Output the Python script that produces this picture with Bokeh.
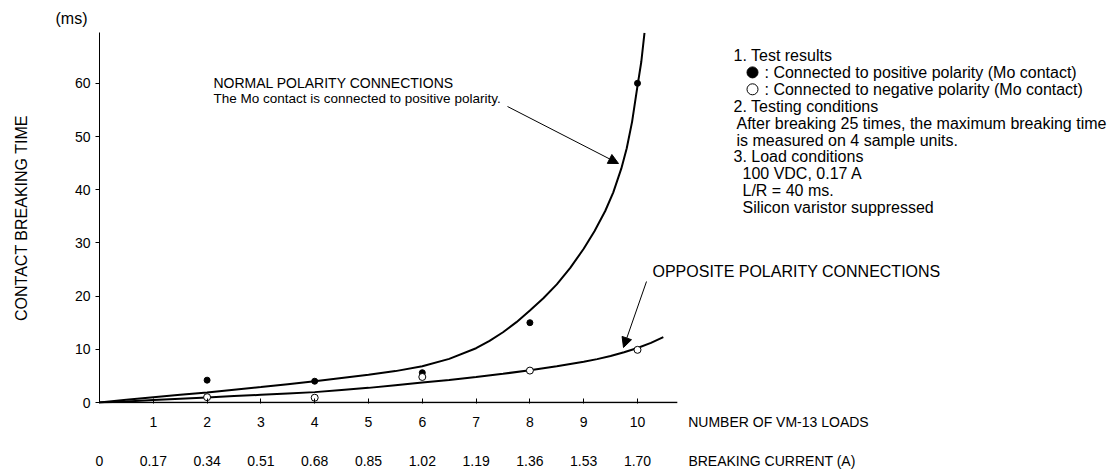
from bokeh.plotting import figure
from bokeh.models import LinearAxis, FixedTicker, Label, Arrow, NormalHead, Range1d, Title
from bokeh.embed import file_html
from bokeh.resources import INLINE

FONT = "Liberation Sans"

# ---------------- data ----------------
load_ticks = [1, 2, 3, 4, 5, 6, 7, 8, 9, 10]
load_labels = ["1", "2", "3", "4", "5", "6", "7", "8", "9", "10"]
current_ticks = [0, 1, 2, 3, 4, 5, 6, 7, 8, 9, 10]
current_labels = ["0", "0.17", "0.34", "0.51", "0.68", "0.85", "1.02", "1.19", "1.36", "1.53", "1.70"]
time_ticks = [0, 10, 20, 30, 40, 50, 60]
time_labels = ["0", "10", "20", "30", "40", "50", "60"]

# measured points
pos_loads = [2, 4, 6, 8, 10]
pos_time = [4.2, 4.0, 5.6, 15.0, 60.0]
neg_loads = [2, 4, 6, 8, 10]
neg_time = [1.0, 0.9, 4.8, 6.0, 9.9]

# hand-drawn fitted curves
normal_fit_loads = [0, 0.5, 1, 1.5, 2, 2.5, 3, 3.5, 4, 4.5, 5, 5.5, 6, 6.5, 7, 7.25, 7.5, 7.75, 8,
                    8.25, 8.5, 8.75, 9.0, 9.2, 9.4, 9.55, 9.7, 9.8, 9.9, 10.0, 10.07, 10.13]
normal_fit_time = [0, 0.5, 1.0, 1.45, 1.9, 2.4, 2.9, 3.45, 4.0, 4.6, 5.2, 5.9, 6.8, 8.2, 10.2, 11.6, 13.2, 15.1, 17.3,
                   19.6, 22.2, 25.3, 28.9, 32.2, 36.0, 39.5, 44.0, 47.8, 52.8, 59.5, 64.0, 69.5]
opposite_fit_loads = [0, 0.5, 1, 1.5, 2, 2.5, 3, 3.5, 4, 4.5, 5, 5.5, 6, 6.5, 7, 7.5, 8,
                      8.5, 9, 9.25, 9.5, 9.75, 10, 10.25, 10.48]
opposite_fit_time = [0, 0.2, 0.45, 0.7, 0.95, 1.2, 1.45, 1.7, 1.95, 2.35, 2.75, 3.25, 3.75, 4.25, 4.8, 5.4, 6.05,
                     6.8, 7.65, 8.15, 8.75, 9.45, 10.25, 11.2, 12.3]

legend_lines = [
    "1. Test results",
    ": Connected to positive polarity (Mo contact)",
    ": Connected to negative polarity (Mo contact)",
    "2. Testing conditions",
    "After breaking 25 times, the maximum breaking time",
    "is measured on 4 sample units.",
    "3. Load conditions",
    "100 VDC, 0.17 A",
    "L/R = 40 ms.",
    "Silicon varistor suppressed",
]
legend_indent = [0, 2, 2, 0, 1, 1, 0, 3, 3, 3]

# ---------------- layout ----------------
W, H = 1110, 472
PX_X = 53.8   # px per load unit
PX_Y = 5.32   # px per ms
X_END = (W - 99) / PX_X
Y_START = -1 / PX_Y
Y_END = 69.55
AXIS_END = 10.74
LOAD_TITLE_POS = 12.62
CURRENT_TITLE_POS = 12.50

p = figure(width=W, height=H,
           x_range=Range1d(0, X_END), y_range=Range1d(Y_START, Y_END),
           x_axis_type=None, y_axis_type=None,
           output_backend="svg", toolbar_location=None,
           min_border_left=99, min_border_right=0, min_border_top=32, min_border_bottom=H - 403)
p.outline_line_color = None
p.background_fill_color = "white"
p.border_fill_color = "white"

# number-of-loads axis
ax1 = LinearAxis(
    ticker=FixedTicker(ticks=load_ticks + [LOAD_TITLE_POS], minor_ticks=load_ticks),
    major_label_overrides={**dict(zip(load_ticks, load_labels)), LOAD_TITLE_POS: "NUMBER OF VM-13 LOADS"},
    axis_line_color=None, major_tick_line_color=None, major_tick_in=0, major_tick_out=0,
    minor_tick_in=5, minor_tick_out=0, minor_tick_line_color="black", minor_tick_line_width=1,
    major_label_standoff=10, major_label_text_font=FONT, major_label_text_font_size="14px",
    major_label_text_color="black")
p.add_layout(ax1, "below")

# breaking-current axis
ax2 = LinearAxis(
    ticker=FixedTicker(ticks=current_ticks + [CURRENT_TITLE_POS]),
    major_label_overrides={**dict(zip(current_ticks, current_labels)), CURRENT_TITLE_POS: "BREAKING CURRENT (A)"},
    axis_line_color=None, major_tick_line_color=None, minor_tick_line_color=None,
    major_tick_in=0, major_tick_out=0, minor_tick_in=0, minor_tick_out=0,
    major_label_standoff=20, major_label_text_font=FONT, major_label_text_font_size="14px",
    major_label_text_color="black")
p.add_layout(ax2, "below")

# time axis
ay = LinearAxis(
    ticker=FixedTicker(ticks=time_ticks),
    major_label_overrides=dict(zip(time_ticks, time_labels)),
    axis_line_color="black", axis_line_width=1,
    major_tick_in=0, major_tick_out=4, major_tick_line_color="black", minor_tick_line_color=None,
    major_label_standoff=5, major_label_text_font=FONT, major_label_text_font_size="14px",
    major_label_text_color="black",
    axis_label="CONTACT BREAKING TIME", axis_label_standoff=42,
    axis_label_text_font=FONT, axis_label_text_font_size="16px",
    axis_label_text_font_style="normal", axis_label_text_color="black")
p.add_layout(ay, "left")

p.add_layout(Title(text="(ms)", align="left", offset=-44, standoff=8, vertical_align="top",
                   text_font=FONT, text_font_size="16px", text_font_style="normal",
                   text_color="black"), "above")

# x axis line (ends at 10.74 like the original)
p.line(x=[0, AXIS_END], y=[0, 0], line_color="black", line_width=1.5)

# fitted curves
p.line(normal_fit_loads, normal_fit_time, line_color="black", line_width=2)
p.line(opposite_fit_loads, opposite_fit_time, line_color="black", line_width=2)

# measured points
p.scatter(pos_loads, pos_time, marker="circle", size=6, fill_color="black", line_color="black")
p.scatter(neg_loads, neg_time, marker="circle", size=7, fill_color="white", line_color="black", line_width=1)


def data_x(px):
    return (px - 99) / PX_X


def data_y(py):
    return (402 - py) / PX_Y


def label(px, py, text, size):
    p.add_layout(Label(x=data_x(px), y=data_y(py), text=text, text_font=FONT, text_font_size=size,
                       text_color="black", text_align="left", text_baseline="middle"))


label(213, 82, "NORMAL POLARITY CONNECTIONS", "14px")
label(213, 98, "The Mo contact is connected to positive polarity.", "13.5px")
label(652, 271, "OPPOSITE POLARITY CONNECTIONS", "16px")

indent_px = [733, 736, 764, 742]
LEG_TOP, LEG_STEP = 55, 16.9
for i, (t, ind) in enumerate(zip(legend_lines, legend_indent)):
    label(indent_px[ind], LEG_TOP + i * LEG_STEP, t, "16px")

# legend keys (filled / open circle)
p.scatter([data_x(752)], [data_y(LEG_TOP + LEG_STEP)], marker="circle", size=11,
          fill_color="black", line_color="black")
p.scatter([data_x(752)], [data_y(LEG_TOP + 2 * LEG_STEP)], marker="circle", size=11,
          fill_color="white", line_color="black", line_width=1)

p.add_layout(Arrow(end=NormalHead(size=10, fill_color="black", line_color="black", line_width=1),
                   x_start=data_x(507), y_start=data_y(106), x_end=data_x(618), y_end=data_y(163),
                   line_color="black", line_width=1))
p.add_layout(Arrow(end=NormalHead(size=10, fill_color="black", line_color="black", line_width=1),
                   x_start=data_x(646), y_start=data_y(281), x_end=data_x(623), y_end=data_y(347),
                   line_color="black", line_width=1))

open("out.html", "w").write(file_html(p, INLINE))
